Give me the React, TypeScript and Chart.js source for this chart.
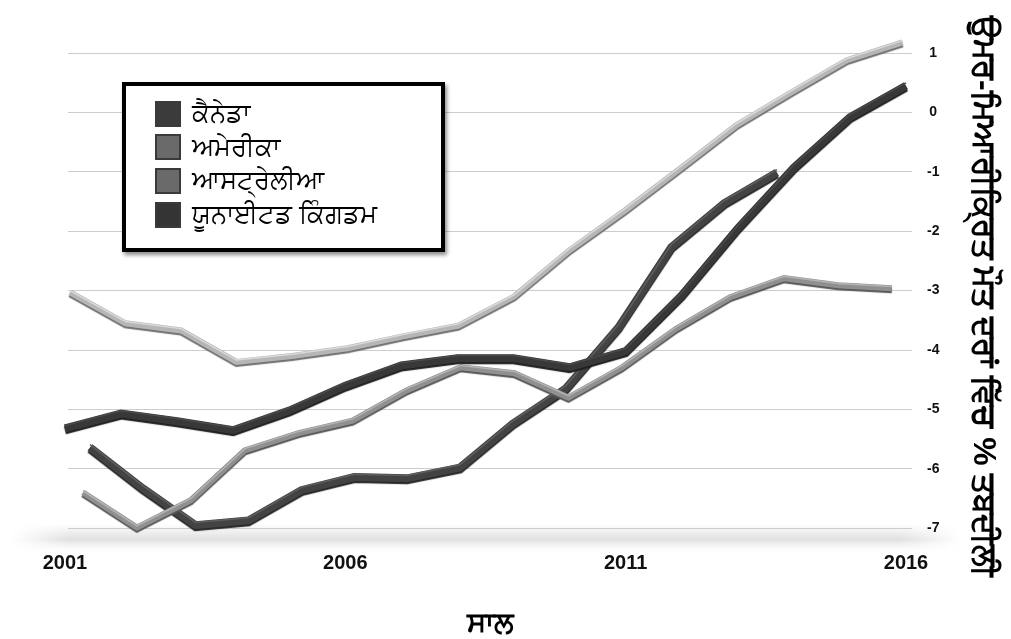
import React, { useEffect, useRef } from "react";
import { Chart, registerables } from "chart.js";

Chart.register(...registerables);

// ---- data ----
const years = [2001, 2002, 2003, 2004, 2005, 2006, 2007, 2008, 2009, 2010, 2011, 2012, 2013, 2014, 2015, 2016];
const seriesLabels = ["ਕੈਨੇਡਾ", "ਅਮੇਰੀਕਾ", "ਆਸਟ੍ਰੇਲੀਆ", "ਯੂਨਾਈਟਡ ਕਿੰਗਡਮ"];
const canada = [-5.32, -5.07, -5.2, -5.35, -5.02, -4.6, -4.26, -4.14, -4.14, -4.29, -4.02, -3.08, -1.95, -0.93, -0.08, 0.45];
const america = [-3.03, -3.55, -3.67, -4.2, -4.1, -3.97, -3.77, -3.59, -3.1, -2.32, -1.65, -0.94, -0.22, 0.34, 0.88, 1.18];
const australia = [-6.4, -6.99, -6.53, -5.69, -5.4, -5.19, -4.68, -4.29, -4.39, -4.8, -4.29, -3.64, -3.11, -2.79, -2.91, -2.96];
const uk = [-5.64, -6.33, -6.95, -6.87, -6.36, -6.14, -6.16, -5.98, -5.24, -4.65, -3.62, -2.27, -1.53, -1.01, null, null];
const yTicks = [-7, -6, -5, -4, -3, -2, -1, 0, 1];
const xTickYears = [2001, 2006, 2011, 2016];
const xTitle = "ਸਾਲ";
const yTitle = "ਉਮਰ-ਮਿਆਰੀਕ੍ਰਿਤ ਮੌਤ ਦਰਾਂ ਵਿੱਚ % ਤਬਦੀਲੀ";

// ---- styles ----
const seriesValues = [canada, america, australia, uk];
const lineColors = ["#383838", "#b6b6b6", "#909090", "#434343"];
const edgeColors = ["#1e1e1e", "#707070", "#575757", "#262626"];
const highlightColors = ["#4a4a4a", "#dadada", "#b4b4b4", "#5e5e5e"];
const lineWidths = [8, 6, 6, 8];
const legendColors = ["#3b3b3b", "#6a6a6a", "#6a6a6a", "#343434"];
// perspective depth: each series sits on its own (hidden) year scale
const depthAxes = [
  { id: "x", min: 2001.054, max: 2016.107 },
  { id: "xB", min: 2000.964, max: 2016.171 },
  { id: "xC", min: 2000.722, max: 2016.372 },
  { id: "xD", min: 2000.584, max: 2016.554 },
];

const FONT = "'Liberation Sans', Arial, 'Noto Sans', sans-serif";

const floorPlugin = {
  id: "floor",
  beforeDraw(chart: any) {
    const ctx = chart.ctx;
    ctx.save();
    const g = ctx.createLinearGradient(0, 524, 0, 552);
    g.addColorStop(0, "rgba(225,225,225,0)");
    g.addColorStop(0.55, "rgba(222,222,222,0.95)");
    g.addColorStop(1, "rgba(240,240,240,0)");
    ctx.fillStyle = g;
    ctx.fillRect(12, 524, 948, 28);
    const l = ctx.createLinearGradient(12, 0, 70, 0);
    l.addColorStop(0, "rgba(255,255,255,1)");
    l.addColorStop(1, "rgba(255,255,255,0)");
    ctx.fillStyle = l;
    ctx.fillRect(12, 524, 58, 28);
    const r = ctx.createLinearGradient(900, 0, 960, 0);
    r.addColorStop(0, "rgba(255,255,255,0)");
    r.addColorStop(1, "rgba(255,255,255,1)");
    ctx.fillStyle = r;
    ctx.fillRect(900, 524, 60, 28);
    ctx.restore();
  },
};

const yTitlePlugin = {
  id: "yTitle",
  afterDraw(chart: any) {
    const ctx = chart.ctx;
    const area = chart.chartArea;
    ctx.save();
    ctx.translate(chart.width - 28, (area.top + area.bottom) / 2 + 12);
    ctx.rotate(Math.PI / 2);
    ctx.textAlign = "center";
    ctx.textBaseline = "middle";
    ctx.fillStyle = "#000";
    ctx.font = `bold 32px ${FONT}`;
    ctx.fillText(yTitle, 0, 0);
    ctx.restore();
  },
};

const ribbonPlugin = {
  id: "ribbon",
  beforeDatasetDraw(chart: any, args: any) {
    const ctx = chart.ctx;
    ctx.save();
    ctx.shadowColor = edgeColors[args.index];
    ctx.shadowOffsetY = 2;
    ctx.shadowOffsetX = 0;
    ctx.shadowBlur = 1;
  },
  afterDatasetDraw(chart: any, args: any) {
    const ctx = chart.ctx;
    ctx.restore();
    const pts = args.meta.data.filter((p: any) => !p.skip);
    if (pts.length < 2) return;
    ctx.save();
    ctx.strokeStyle = highlightColors[args.index];
    ctx.lineWidth = 1.5;
    ctx.lineJoin = "miter";
    ctx.beginPath();
    const off = lineWidths[args.index] / 2 - 1.2;
    pts.forEach((p: any, i: number) => {
      if (i === 0) ctx.moveTo(p.x, p.y - off);
      else ctx.lineTo(p.x, p.y - off);
    });
    ctx.stroke();
    ctx.restore();
  },
};

export default function App() {
  const canvasRef = useRef<HTMLCanvasElement | null>(null);

  useEffect(() => {
    if (!canvasRef.current) return;
    const datasets = seriesValues.map((vals, si) => ({
      label: seriesLabels[si],
      data: years.map((yr, i) => ({ x: yr, y: vals[i] })),
      xAxisID: depthAxes[si].id,
      yAxisID: "y",
      borderColor: lineColors[si],
      backgroundColor: lineColors[si],
      borderWidth: lineWidths[si],
      borderJoinStyle: "miter" as const,
      borderCapStyle: "butt" as const,
      pointRadius: 0,
      tension: 0,
      clip: false as any,
      spanGaps: false,
    }));

    const scales: any = {
      x: {
        type: "linear",
        position: "bottom",
        min: depthAxes[0].min,
        max: depthAxes[0].max,
        afterBuildTicks: (s: any) => {
          s.ticks = xTickYears.map((v) => ({ value: v }));
        },
        afterFit: (s: any) => {
          s.height = 93;
        },
        grid: { display: false, drawTicks: false },
        border: { display: false },
        ticks: {
          autoSkip: false,
          maxRotation: 0,
          padding: 5,
          color: "#111",
          font: { family: FONT, size: 20, weight: "bold" },
          callback: (v: any) => String(v),
        },
        title: {
          display: true,
          text: xTitle,
          color: "#000",
          font: { family: FONT, size: 29, weight: "bold" },
          padding: { top: 0, bottom: -2 },
        },
      },
      y: {
        type: "linear",
        position: "right",
        min: -7.3,
        max: 1.5,
        afterBuildTicks: (s: any) => {
          s.ticks = yTicks.map((v) => ({ value: v }));
        },
        afterFit: (s: any) => {
          s.width = 99;
        },
        grid: { color: "#cdcdcd", lineWidth: 1, drawTicks: false },
        border: { display: false },
        ticks: {
          padding: 15,
          crossAlign: "center",
          color: "#111",
          font: { family: FONT, size: 14, weight: "bold" },
          callback: (v: any) => String(v),
        },
        title: { display: false },
      },
    };
    depthAxes.slice(1).forEach((a) => {
      scales[a.id] = { type: "linear", display: false, min: a.min, max: a.max };
    });

    const chart = new Chart(canvasRef.current, {
      type: "line",
      data: { datasets },
      options: {
        animation: false,
        responsive: false,
        devicePixelRatio: 1,
        layout: { padding: { left: 68, right: 0, top: 23, bottom: 0 } },
        scales,
        plugins: {
          legend: { display: false },
          tooltip: { enabled: false },
        },
      } as any,
      plugins: [floorPlugin, ribbonPlugin, yTitlePlugin],
    });
    return () => chart.destroy();
  }, []);

  return (
    <div style={{ position: "absolute", left: 0, top: 0, width: 1011, height: 639, background: "#fff" }}>
      <canvas ref={canvasRef} width={1011} height={639} style={{ display: "block" }} />
      <div
        style={{
          position: "absolute",
          left: 122,
          top: 82,
          width: 315,
          height: 162,
          border: "4px solid #000",
          background: "#fff",
          boxShadow: "2px 3px 4px rgba(0,0,0,0.45)",
          fontFamily: FONT,
        }}
      >
        {seriesLabels.map((lab, i) => (
          <div
            key={lab}
            style={{
              position: "absolute",
              left: 29,
              top: 14 + i * 33.7,
              height: 27,
              display: "flex",
              alignItems: "center",
              whiteSpace: "nowrap",
            }}
          >
            <span
              style={{
                display: "inline-block",
                width: 22,
                height: 22,
                background: legendColors[i],
                border: "2px solid #3a3a3a",
                boxSizing: "content-box",
                marginRight: 11,
              }}
            />
            <span style={{ fontSize: 26, color: "#000", lineHeight: "27px" }}>{lab}</span>
          </div>
        ))}
      </div>
    </div>
  );
}
